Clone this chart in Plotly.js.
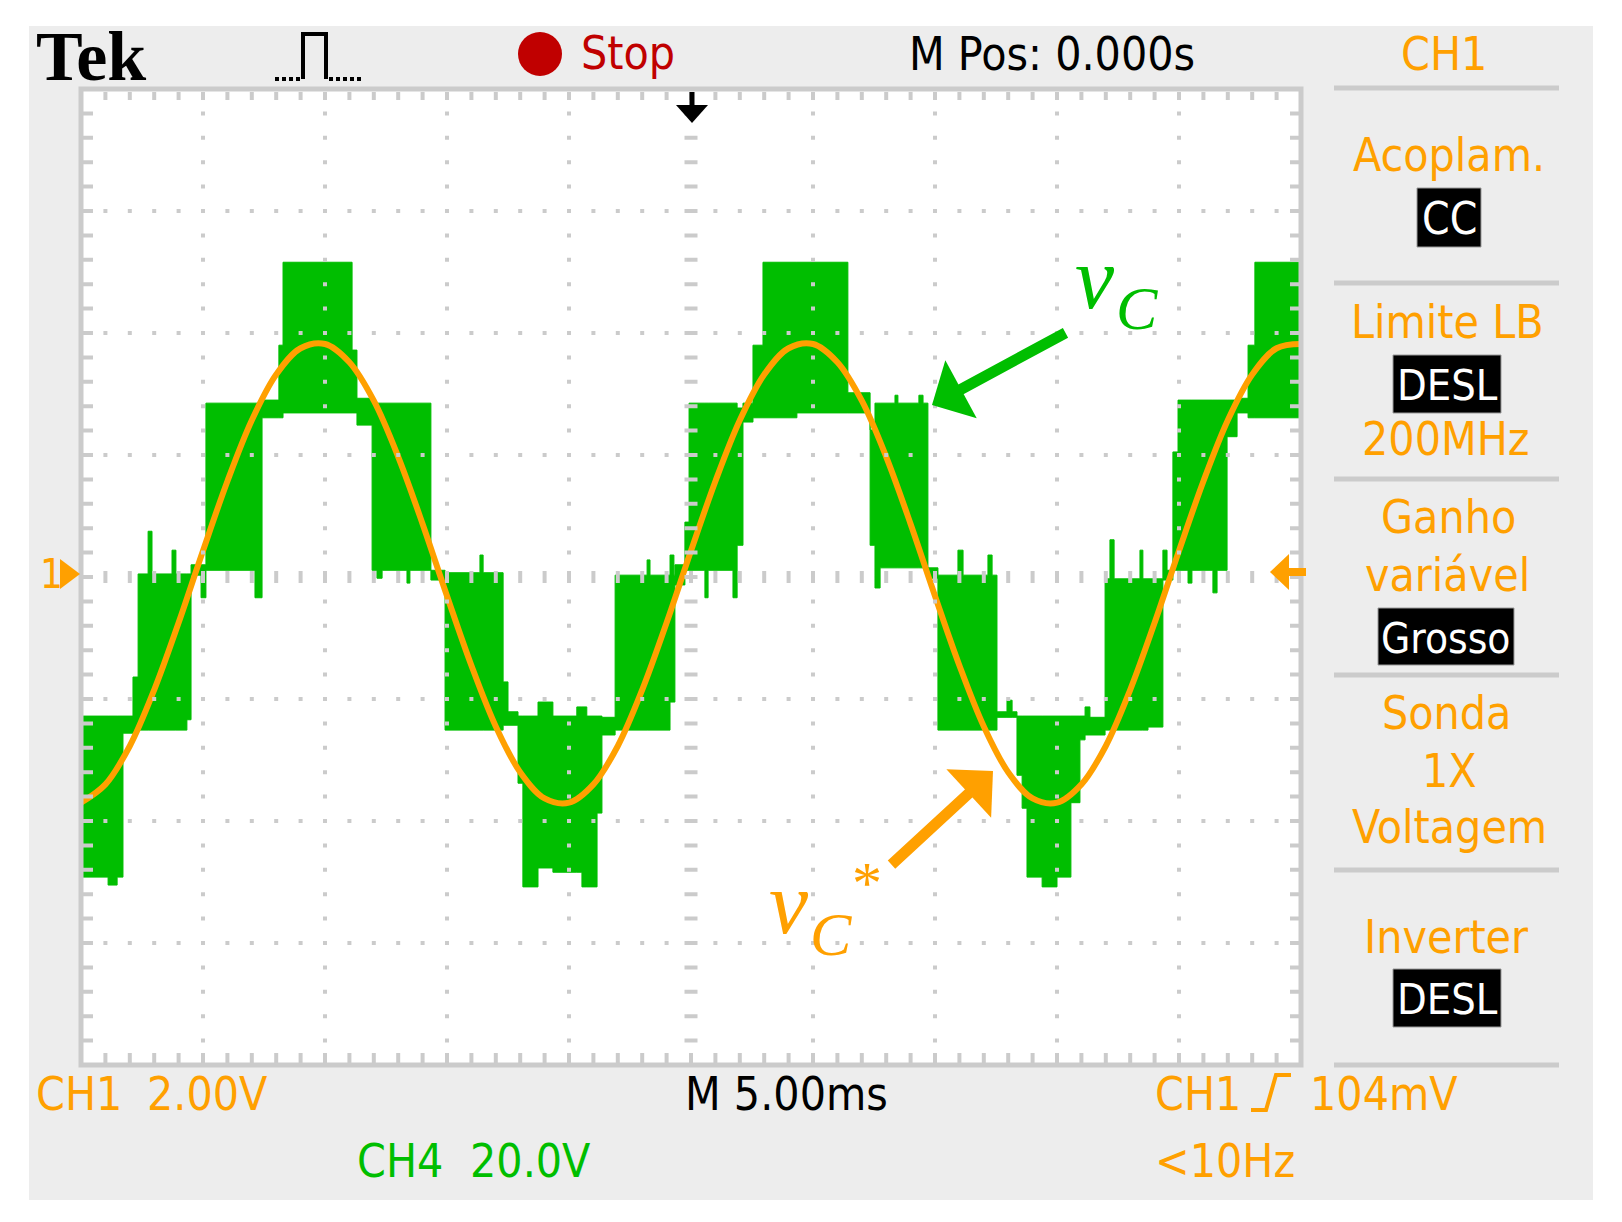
<!DOCTYPE html>
<html>
<head>
<meta charset="utf-8">
<script src="https://cdn.plot.ly/plotly-3.0.1.min.js"></script>
<style>
	body { margin: 0; background: #ffffff; }
	#scope { width: 1622px; height: 1222px; }
</style>
</head>
<body>
<div id="scope"></div>
<script>
// ==========================================
// SCOPE DATA
// ==========================================

// time in ms (5 ms/div, 10 div)
const timeMs = [0, 1, 2, 3, 4, 5, 6, 7, 8, 9, 10, 11, 12, 13, 14, 15, 16, 17, 18, 19, 20,
	21, 22, 23, 24, 25, 26, 27, 28, 29, 30, 31, 32, 33, 34, 35, 36, 37, 38, 39, 40,
	41, 42, 43, 44, 45, 46, 47, 48, 49, 50]

// CH1 = vC* reference, volts (2 V/div)
const ch1Volts = [-3.70, -3.40, -2.77, -1.85, -0.75, 0.43, 1.57, 2.57, 3.32, 3.75, 3.82,
	3.52, 2.89, 1.97, 0.87, -0.31, -1.45, -2.45, -3.20, -3.63, -3.70,
	-3.40, -2.77, -1.85, -0.75, 0.43, 1.57, 2.57, 3.32, 3.75, 3.82,
	3.52, 2.89, 1.97, 0.87, -0.31, -1.45, -2.45, -3.20, -3.63, -3.70,
	-3.40, -2.77, -1.85, -0.75, 0.43, 1.57, 2.57, 3.32, 3.75, 3.82]

// CH4 = vC converter output, volts (20 V/div)
// the switching smears into a band, kept as upper / lower envelope (each step holds to the next time)
const ch4Time = [0, 1.11, 1.48, 1.72, 2.13, 2.34, 2.75, 2.91, 3.73, 3.89, 4.34, 4.51, 4.92, 5.12,
	7.13, 7.42, 8.11, 8.28, 11.11, 11.31, 11.93, 12.13, 12.34, 13.36, 13.48, 14.34, 14.92,
	16.35, 16.48, 17.30, 17.50, 17.91, 18.11, 18.73, 19.34, 20.32, 20.53, 20.73, 21.15,
	21.35, 21.89, 23.20, 23.32, 24.14, 24.30, 24.34, 24.75, 24.92, 25.57, 25.70, 26.72,
	26.89, 27.13, 27.54, 27.95, 29.34, 31.43, 32.34, 32.54, 32.75, 33.36, 33.48, 34.34,
	34.51, 34.71, 35.12, 35.94, 36.15, 37.17, 37.34, 37.54, 37.95, 38.16, 38.36, 38.57,
	38.77, 39.39, 40.00, 40.57, 40.94, 41.15, 41.35, 41.97, 42.17, 42.34, 43.40, 43.52,
	43.73, 44.34, 44.51, 44.75, 44.96, 45.37, 45.53, 46.39, 46.56, 46.97, 47.38, 47.83,
	48.11, 50]
const ch4Upper = [-22.8, -22.8, -22.8, -22.8, -16.4, 0.5, 7.5, 0.5, 4.4, 0.5, 0.5, 2.0, 2.0, 28.5,
	28.5, 29.0, 38.0, 51.6, 37.2, 29.3, 28.5, 28.5, 28.5, 28.5, 28.5, 1.1, 0.7,
	3.6, 0.7, -17.2, -22.1, -22.8, -22.8, -20.5, -22.8, -21.3, -21.3, -22.8, -22.8,
	-23.0, 0.3, 2.8, 0.3, 3.6, 0.3, 2.0, 9.0, 28.5, 28.5, 28.5, 28.5,
	27.7, 28.5, 38.0, 51.6, 51.6, 30.2, 24.1, 28.5, 28.5, 29.8, 28.5, 29.8,
	28.5, 1.5, 0.3, 4.4, 0.3, 3.6, 0.3, -22.1, -20.2, -22.1, -22.8, -22.8,
	-22.8, -22.8, -22.8, -22.8, -22.8, -21.3, -23.0, -0.3, 6.1, -0.3, 4.4, -0.3,
	-0.3, 4.4, 1.1, 20.5, 29.0, 29.0, 29.0, 29.0, 29.0, 29.0, 29.3, 38.0,
	51.6, 51.6]
const ch4Lower = [-49.2, -50.5, -49.2, -25.6, -25.4, -25.1, -25.1, -25.1, -25.1, -25.1, -23.4, 0.3, -3.4, 1.1,
	-3.4, 26.1, 26.1, 26.9, 26.9, 24.9, 1.1, -0.2, 1.1, -1.0, 1.1, -0.5, -25.1,
	-25.1, -25.1, -24.3, -24.3, -33.8, -50.8, -47.7, -48.4, -48.4, -50.8, -50.8, -38.7,
	-25.9, -25.1, -25.1, -25.1, -20.5, -20.5, -1.3, 1.1, 1.1, -3.4, 1.1, -3.4,
	5.2, 25.4, 26.1, 26.1, 26.9, 26.9, 5.2, -1.8, 1.5, 1.5, 1.5, 1.5,
	1.5, -0.2, -25.1, -25.1, -25.1, -25.1, -25.1, -23.0, -23.0, -23.0, -32.5, -37.9,
	-49.2, -50.8, -49.2, -37.0, -26.7, -25.9, -25.9, -25.1, -25.1, -25.1, -25.1, -25.1,
	-24.6, -0.5, -0.5, 1.1, 1.1, -1.0, 1.1, -2.6, 1.1, 23.0, 26.9, 26.1,
	26.1, 26.1]

// ==========================================
// LOOK
// ==========================================
const ORANGE = '#ffa000'
const GREEN = '#00be00'
const RED = '#c00000'
const GRID = '#cbcbcb'
const PANEL = '#ededed'
const SCOPE_FONT = 'Liberation Sans Narrow, DejaVu Sans Condensed, Roboto Condensed, sans-serif'
const SERIF = 'Liberation Serif, DejaVu Serif, serif'
const FS = 46
const DOTS = '2px,20.4px,2px,0px'

// screen pixel -> paper; the graticule is 81..1301 by 89..1065
const X = px => (px - 81) / 1220
const Y = py => (1065 - py) / 976

const rect = (x0, y0, x1, y1, fill, layer, line) => ({
	type: 'rect', xref: 'paper', yref: 'paper', layer: layer || 'above',
	x0: X(x0), y0: Y(y0), x1: X(x1), y1: Y(y1),
	fillcolor: fill, line: line || {width: 0}
})

const seg = (x0, y0, x1, y1, color, width, dash) => ({
	type: 'line', xref: 'paper', yref: 'paper', layer: 'above',
	x0: X(x0), y0: Y(y0), x1: X(x1), y1: Y(y1),
	line: {color: color, width: width, dash: dash || 'solid'}
})

const poly = (pts, fill, color, width, closed) => {
	const d = pts.map((p, i) => (i ? 'L' : 'M') + X(p[0]) + ',' + Y(p[1])).join('') + (closed ? 'Z' : '')
	return {
		type: 'path', xref: 'paper', yref: 'paper', layer: 'above', path: d,
		fillcolor: fill || 'rgba(0,0,0,0)', line: {color: color, width: width}
	}
}

const txt = (text, x, y, color, size, anchor, family) => ({
	xref: 'paper', yref: 'paper', x: X(x), y: Y(y), text: text, showarrow: false,
	xanchor: anchor || 'left', yanchor: 'middle',
	font: {family: family || SCOPE_FONT, size: size || FS, color: color}
})

const arrow = (tipX, tipY, tailX, tailY, color) => ({
	xref: 'paper', yref: 'paper', x: X(tipX), y: Y(tipY),
	axref: 'pixel', ayref: 'pixel', ax: tailX - tipX, ay: tailY - tipY,
	text: '', showarrow: true, arrowhead: 1, arrowsize: 1, arrowwidth: 11, arrowcolor: color
})

const graticule = () => {
	const s = []
	for(let k=1; k<10; k++) {
		if(k === 5) continue
		s.push(seg(81 + 122*k, 89, 81 + 122*k, 1065, GRID, 4, DOTS))
	}
	for(let j=1; j<8; j++) {
		if(j === 4) continue
		s.push(seg(81, 89 + 122*j, 1301, 89 + 122*j, GRID, 4, DOTS))
	}
	// centre cross
	s.push(seg(691, 89, 691, 1065, GRID, 13, DOTS))
	s.push(seg(81, 577, 1301, 577, GRID, 12, DOTS))
	// ticks on the frame
	s.push(seg(88, 89, 88, 1065, GRID, 10, DOTS))
	s.push(seg(1295, 89, 1295, 1065, GRID, 10, DOTS))
	s.push(seg(81, 96, 1301, 96, GRID, 8, DOTS))
	s.push(seg(81, 1058, 1301, 1058, GRID, 10, DOTS))
	s.push(rect(81, 89, 1301, 1065, 'rgba(0,0,0,0)', 'above', {color: GRID, width: 5}))
	return s
}

const markers = () => [
	// trigger position marker
	seg(692, 92, 692, 108, '#000000', 5),
	poly([[676, 105], [708, 105], [692, 123]], '#000000', '#000000', 0, true),
	// trigger level marker on the right
	poly([[1270, 572], [1289, 554], [1289, 590]], ORANGE, ORANGE, 0, true),
	rect(1288, 568, 1306, 576, ORANGE),
	// channel ground marker on the left
	poly([[60, 559], [80, 574], [60, 589]], ORANGE, ORANGE, 0, true)
]

const panelShapes = () => {
	const s = [
		rect(29, 26, 1593, 1200, PANEL, 'below'),
		rect(81, 89, 1301, 1065, '#ffffff', 'below')
	]
	const seps = [88, 283, 479, 675, 870, 1065]
	seps.forEach(y => s.push(seg(1334, y, 1559, y, GRID, 5)))
	// black value boxes
	s.push(rect(1417, 188, 1481, 247, '#000000', 'above', {color: '#9a9a9a', width: 1}))
	s.push(rect(1393, 355, 1501, 413, '#000000', 'above', {color: '#9a9a9a', width: 1}))
	s.push(rect(1378, 608, 1514, 665, '#000000', 'above', {color: '#9a9a9a', width: 1}))
	s.push(rect(1393, 969, 1501, 1027, '#000000', 'above', {color: '#9a9a9a', width: 1}))
	// run/stop lamp
	s.push({type: 'circle', xref: 'paper', yref: 'paper', layer: 'above',
		x0: X(518), y0: Y(32), x1: X(562), y1: Y(76), fillcolor: RED, line: {width: 0}})
	// trigger pulse icon
	s.push(poly([[303, 79], [303, 34], [326, 34], [326, 79]], null, '#000000', 4))
	s.push(seg(275, 79, 301, 79, '#000000', 4, '4px,3px'))
	s.push(seg(329, 79, 363, 79, '#000000', 4, '4px,3px'))
	// rising edge symbol in trigger readout
	s.push(poly([[1251, 1110], [1266, 1110], [1276, 1075], [1291, 1075]], null, ORANGE, 4))
	return s
}

const scopeText = () => [
	txt('<b>Tek</b>', 34, 57, '#000000', 70, 'left', SERIF),
	txt('Stop', 579, 53, RED),
	txt('M Pos: 0.000s', 907, 54, '#000000'),
	txt('CH1', 1444, 54, ORANGE, FS, 'center'),
	txt('Acoplam.', 1449, 155, ORANGE, FS, 'center'),
	txt('CC', 1449, 218, '#ffffff', 44, 'center'),
	txt('Limite LB', 1447, 322, ORANGE, FS, 'center'),
	txt('DESL', 1447, 385, '#ffffff', 43, 'center'),
	txt('200MHz', 1446, 439, ORANGE, FS, 'center'),
	txt('Ganho', 1448, 517, ORANGE, FS, 'center'),
	txt('variável', 1447, 575, ORANGE, FS, 'center'),
	txt('Grosso', 1446, 638, '#ffffff', 42, 'center'),
	txt('Sonda', 1446, 713, ORANGE, FS, 'center'),
	txt('1X', 1449, 771, ORANGE, FS, 'center'),
	txt('Voltagem', 1449, 827, ORANGE, FS, 'center'),
	txt('Inverter', 1446, 937, ORANGE, FS, 'center'),
	txt('DESL', 1447, 999, '#ffffff', 43, 'center'),
	txt('CH1', 34, 1094, ORANGE),
	txt('2.00V', 145, 1094, ORANGE),
	txt('M 5.00ms', 683, 1094, '#000000'),
	txt('CH1', 1153, 1094, ORANGE),
	txt('104mV', 1308, 1094, ORANGE),
	txt('CH4', 355, 1161, GREEN),
	txt('20.0V', 468, 1161, GREEN),
	txt('&lt;10Hz', 1153, 1161, ORANGE),
	txt('1', 38, 574, ORANGE, 40),
	// trace labels
	txt('<i>v</i>', 1073, 278, GREEN, 88, 'left', SERIF),
	txt('<i>C</i>', 1114, 308, GREEN, 62, 'left', SERIF),
	txt('<i>v</i>', 767, 903, ORANGE, 88, 'left', SERIF),
	txt('<i>C</i>', 808, 934, ORANGE, 62, 'left', SERIF),
	txt('*', 867, 883, ORANGE, 60, 'center', SERIF),
	arrow(932, 405, 1067, 332, GREEN),
	arrow(993, 771, 890, 866, ORANGE)
]

const plotScope = () => {
	// CH4 sits on the base axis, CH1 on the overlay so the reference is drawn on top
	const band = {
		type: 'scatter', mode: 'lines', hoverinfo: 'skip',
		x: ch4Time, line: {color: GREEN, width: 1, shape: 'hv'}
	}
	const data = [
		Object.assign({}, band, {y: ch4Lower}),
		Object.assign({}, band, {y: ch4Upper, fill: 'tonexty', fillcolor: GREEN}),
		{
			type: 'scatter', mode: 'lines', hoverinfo: 'skip', yaxis: 'y2',
			x: timeMs, y: ch1Volts,
			line: {color: ORANGE, width: 6, shape: 'spline', smoothing: 1}
		}
	]

	const layout = {
		width: 1622,
		height: 1222,
		margin: {l: 81, r: 321, t: 89, b: 157, pad: 0},
		paper_bgcolor: '#ffffff',
		plot_bgcolor: '#ffffff',
		showlegend: false,
		xaxis: {range: [0, 50], visible: false, fixedrange: true},
		yaxis: {range: [-80, 80], visible: false, fixedrange: true},
		yaxis2: {range: [-8, 8], overlaying: 'y', visible: false, fixedrange: true},
		shapes: panelShapes().concat(graticule(), markers()),
		annotations: scopeText()
	}

	Plotly.newPlot('scope', data, layout, {staticPlot: true, displayModeBar: false})
}

plotScope()
</script>
</body>
</html>
